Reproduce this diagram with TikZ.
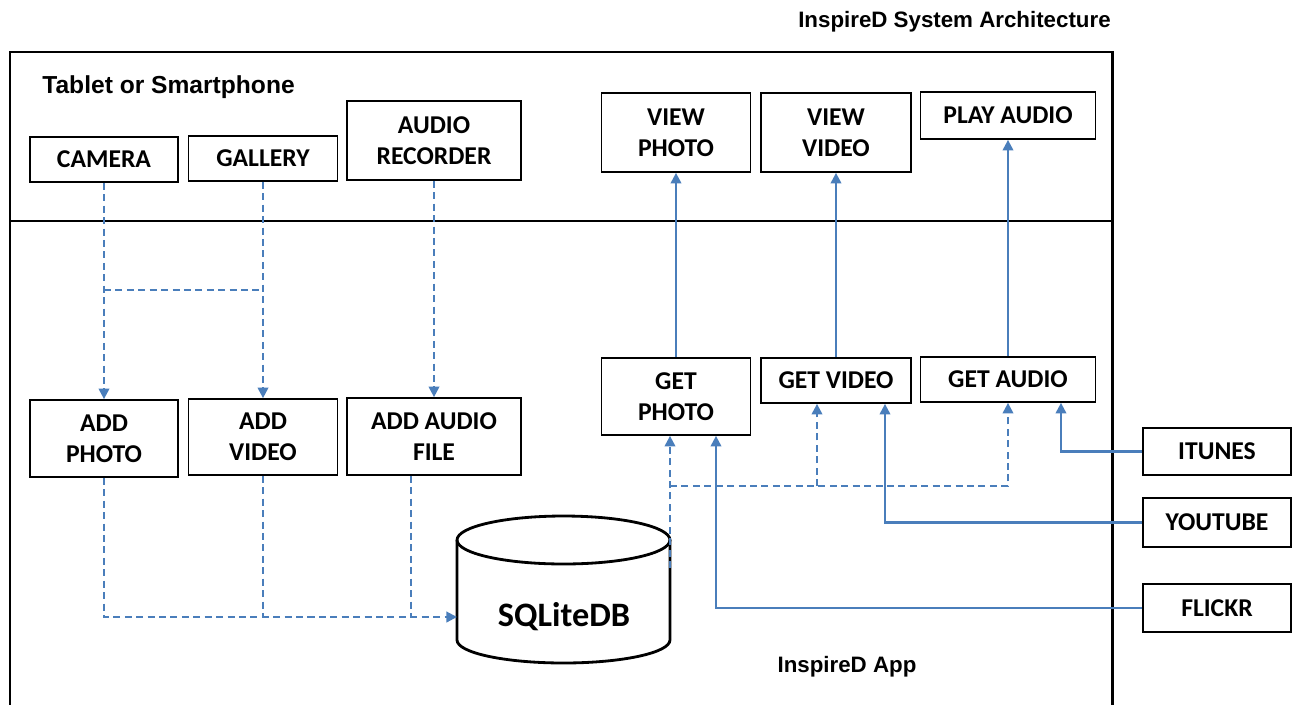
\documentclass[tikz,border=0pt]{standalone}
\usepackage{fontspec}
\newfontfamily\boxfont{Carlito}
\newfontfamily\headfont{Liberation Sans}
\usetikzlibrary{positioning, arrows.meta, calc}
\definecolor{linkblue}{RGB}{74,126,187}

\tikzset{
  block/.style={draw, line width=1pt, align=center, inner sep=0pt, font=\boxfont\bfseries\fontsize{14.6}{17.6}\selectfont},
  heading/.style={font=\headfont\bfseries\fontsize{#1}{#1}\selectfont},
  flow/.style={linkblue, line width=1.2pt},
  feed/.style={flow, dash pattern=on 4pt off 2.5pt},
  arrowed/.style={-{Triangle[length=6pt,width=6pt]}}
}

\begin{document}
\begin{tikzpicture}[x=0.02cm, y=-0.02cm]
    \useasboundingbox (0,0) rectangle (1292,704);

    \draw[line width=1.7pt] (10,720) -- (10,52) -- (1112,52) -- (1112,720);
    \draw[line width=1.1pt] (10,221) -- (1112,221);

    \node[heading=12.7] (title) at (954.5,22) {InspireD System Architecture};
    \node[heading=14, anchor=west, inner sep=0pt] (device) at (42,87) {Tablet or Smartphone};
    \node[heading=12.7] (app) at (847,667) {InspireD App};

    \node[block, minimum width=2.96cm, minimum height=0.9cm] (camera) at (104,159.5) {CAMERA};
    \node[block, minimum width=2.98cm, minimum height=0.9cm] (gallery) at (263,158.5) {GALLERY};
    \node[block, minimum width=3.48cm, minimum height=1.58cm] (recorder) at (434,140.5) {AUDIO\\RECORDER};
    \node[block, minimum width=2.98cm, minimum height=1.58cm] (viewphoto) at (676,132.5) {VIEW\\PHOTO};
    \node[block, minimum width=3cm, minimum height=1.58cm] (viewvideo) at (836,132.5) {VIEW\\VIDEO};
    \node[block, minimum width=3.5cm, minimum height=0.94cm] (playaudio) at (1008,115.5) {PLAY AUDIO};

    \node[block, minimum width=2.96cm, minimum height=1.54cm] (addphoto) at (104,438.5) {ADD\\PHOTO};
    \node[block, minimum width=2.98cm, minimum height=1.52cm] (addvideo) at (263,437) {ADD\\VIDEO};
    \node[block, minimum width=3.48cm, minimum height=1.54cm] (addaudio) at (434,436.5) {ADD AUDIO\\FILE};
    \node[block, minimum width=2.98cm, minimum height=1.54cm] (getphoto) at (676,396.5) {GET\\PHOTO};
    \node[block, minimum width=3cm, minimum height=0.9cm] (getvideo) at (836,380.5) {GET VIDEO};
    \node[block, minimum width=3.5cm, minimum height=0.9cm] (getaudio) at (1008,379.5) {GET AUDIO};

    \node[block, minimum width=2.96cm, minimum height=0.94cm] (itunes) at (1217,451.5) {ITUNES};
    \node[block, minimum width=2.96cm, minimum height=0.98cm] (youtube) at (1217,522.5) {YOUTUBE};
    \node[block, minimum width=2.96cm, minimum height=0.96cm] (flickr) at (1217,608) {FLICKR};

    % database
    \draw[line width=1.6pt] (457,540) -- (457,640) arc[start angle=180, end angle=360, x radius=2.13cm, y radius=0.46cm] -- (670,540);
    \draw[line width=1.6pt] (563.5,540) ellipse [x radius=2.13cm, y radius=0.48cm];
    \node[font=\boxfont\bfseries\fontsize{19.5}{20}\selectfont] (db) at (564,617) {SQLiteDB};

    % capture side
    \draw[feed, arrowed] (camera) -- (addphoto);
    \draw[feed, arrowed] (gallery) -- (addvideo);
    \draw[feed, arrowed] (recorder) -- (addaudio);
    \coordinate (camjoin) at (104,290);
    \coordinate (galjoin) at (263,290);
    \draw[feed] (camjoin) -- (galjoin);

    \coordinate (dbin) at (457,617);
    \coordinate (fileout) at ([xshift=-0.46cm]addaudio.south);
    \draw[feed, arrowed] (addphoto.south) -- (addphoto.south |- dbin) -- (dbin);
    \draw[feed] (addvideo.south) -- (addvideo.south |- dbin);
    \draw[feed] (fileout) -- (fileout |- dbin);

    % playback side
    \coordinate (dbout) at (670,568);
    \coordinate (bus) at (670,486);
    \coordinate (videotap) at (817,486);
    \draw[feed, arrowed] (dbout) -- (dbout |- getphoto.south);
    \draw[feed, arrowed] (bus) -- (getaudio.south |- bus) -- (getaudio.south);
    \draw[feed, arrowed] (videotap) -- (videotap |- getvideo.south);

    \draw[flow, arrowed] (getphoto) -- (viewphoto);
    \draw[flow, arrowed] (getvideo) -- (viewvideo);
    \draw[flow, arrowed] (getaudio) -- (playaudio);

    \draw[flow, arrowed] (itunes.west) -| ([xshift=1.06cm]getaudio.south);
    \draw[flow, arrowed] (youtube.west) -| ([xshift=0.98cm]getvideo.south);
    \draw[flow, arrowed] (flickr.west) -| ([xshift=0.8cm]getphoto.south);
\end{tikzpicture}
\end{document}
